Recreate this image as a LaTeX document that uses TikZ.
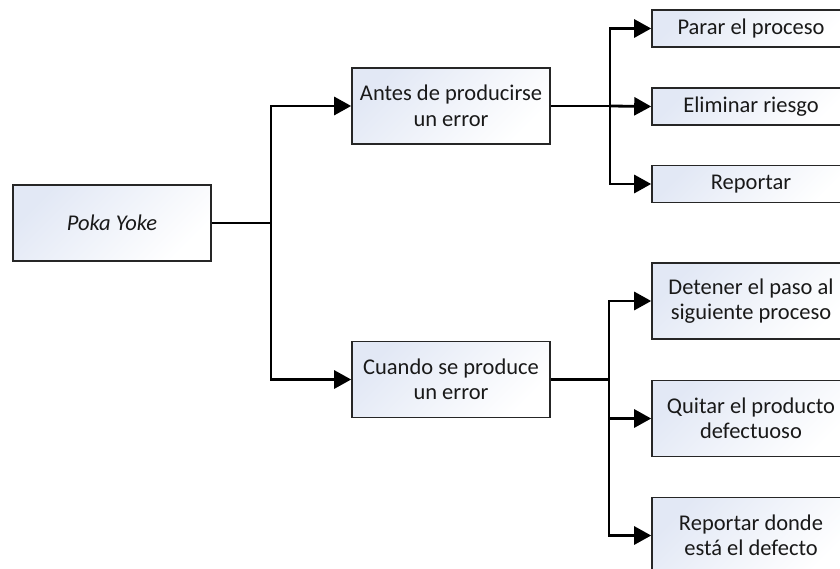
\documentclass[tikz,border=0pt]{standalone}
\usepackage{fontspec}
\setmainfont{Carlito}
\usetikzlibrary{arrows.meta}
\definecolor{boxtop}{HTML}{E2E8F5}
\definecolor{boxline}{HTML}{262626}
\tikzset{
  box/.style={draw=boxline, line width=1.6pt, top color=boxtop, bottom color=white,
    shading angle=45, minimum width=198pt, inner sep=0pt, align=center,
    font=\fontsize{22.5}{25.5}\selectfont, text=black!90},
  tall/.style={minimum height=76pt},
  short/.style={minimum height=37pt},
  conn/.style={line width=2.8pt, black},
  arr/.style={conn, -{Triangle[length=17pt,width=18pt]}}
}
\begin{document}
\begin{tikzpicture}[x=1pt,y=-1pt]
\fill[white] (0,0) rectangle (840,569);
\clip (0,0) rectangle (840,569);
\node[box,tall] (poka) at (112,223) {\itshape Poka Yoke};
\node[box,tall] (antes) at (451,106) {Antes de producirse\\un error};
\node[box,tall] (cuando) at (451,379.5) {Cuando se produce\\un error};
\node[box,short] (parar) at (751,28.5) {Parar el proceso};
\node[box,short] (elim) at (751,106.5) {Eliminar riesgo};
\node[box,short] (rep) at (751,184) {Reportar};
\node[box,tall] (deten) at (751,301) {Detener el paso al\\siguiente proceso};
\node[box,tall] (quitar) at (751,418.5) {Quitar el producto\\defectuoso};
\node[box,tall] (repd) at (751,535.5) {Reportar donde\\está el defecto};
\coordinate (j1) at (271,223);
\coordinate (j2) at (610,106);
\coordinate (j3) at (609,379.5);
\draw[conn] (poka.east) -- (j1);
\draw[arr] (j1) |- (antes.west);
\draw[arr] (j1) |- (cuando.west);
\draw[conn] (antes.east) -- (j2);
\draw[arr] (j2) |- (parar.west);
\draw[arr] (j2) -- (elim.west);
\draw[arr] (j2) |- (rep.west);
\draw[conn] (cuando.east) -- (j3);
\draw[arr] (j3) |- (deten.west);
\draw[arr] (j3) |- (quitar.west);
\draw[arr] (j3) |- (repd.west);
\end{tikzpicture}
\end{document}
